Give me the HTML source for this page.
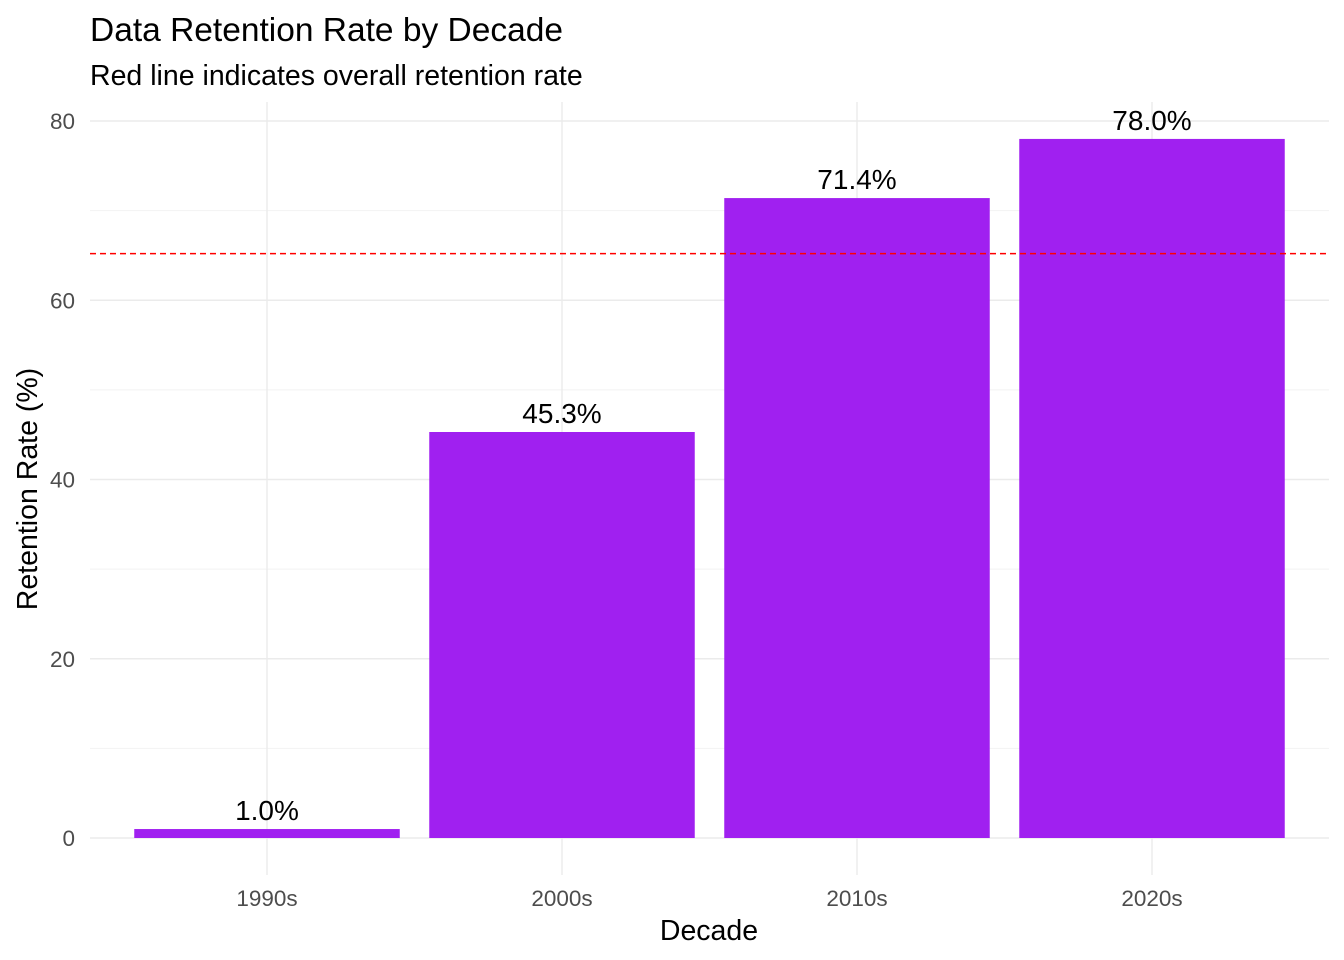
<!DOCTYPE html>
<html><head><meta charset="utf-8"><style>
html,body{margin:0;padding:0;background:#fff;}
svg{display:block;font-family:"Liberation Sans",Arial,sans-serif;}
</style></head><body>
<svg id="chart" width="1344" height="960" viewBox="0 0 1344 960">
<text x="90" y="41" font-size="33.5" fill="#000">Data Retention Rate by Decade</text>
<text x="90" y="85" font-size="28.5" fill="#000">Red line indicates overall retention rate</text>
<g id="grid"></g>
<g id="bars"></g>
<g id="labels"></g>
<g id="yticks"></g>
<g id="xticks"></g>
<text x="709" y="940" font-size="28.5" text-anchor="middle" fill="#000">Decade</text>
<text transform="translate(37,489) rotate(-90)" font-size="28.5" text-anchor="middle" fill="#000">Retention Rate (%)</text>
</svg>
<script>
const categories = ["1990s","2000s","2010s","2020s"];
const values = [1.0, 45.3, 71.4, 78.0];
const overallRate = 65.2;
const yTicks = [0,20,40,60,80];
const yMinor = [10,30,50,70];

const NS="http://www.w3.org/2000/svg";
const left=90,right=1329;
const y0=838, pxPerUnit=(838-121)/80;
const y=v=>y0-v*pxPerUnit;
const step=(right-left)/(categories.length+0.2);
const x=i=>left+(i+0.6)*step;
const bw=step*0.9;
function mk(tag,attrs,parent){const e=document.createElementNS(NS,tag);for(const k in attrs)e.setAttribute(k,attrs[k]);parent.appendChild(e);return e;}
const grid=document.getElementById('grid');
yMinor.forEach(t=>{const l=mk('line',{x1:left,x2:right,y1:y(t),y2:y(t),stroke:'#f2f2f2','stroke-width':1},grid);

});
yTicks.forEach(t=>{const l=mk('line',{x1:left,x2:right,y1:y(t),y2:y(t),stroke:'#ebebeb','stroke-width':1.4},grid);

});
categories.forEach((c,i)=>{const l=mk('line',{x1:x(i),x2:x(i),y1:102,y2:875,stroke:'#ebebeb','stroke-width':1.4},grid);

});
const bars=document.getElementById('bars'),labels=document.getElementById('labels');
values.forEach((v,i)=>{
const r=mk('rect',{x:x(i)-bw/2,y:y(v),width:bw,height:y0-y(v),fill:'#a020f0'},bars);


const t=mk('text',{x:x(i),y:y(v)-9,'font-size':'28','text-anchor':'middle',fill:'#000'},labels);
t.textContent=v.toFixed(1)+'%';


});
const ref=mk('line',{x1:left,x2:right,y1:y(overallRate),y2:y(overallRate),stroke:'#ff0000','stroke-width':1.5,'stroke-dasharray':'6,4'},document.getElementById('chart'));


const yt=document.getElementById('yticks');
yTicks.forEach(t=>{const e=mk('text',{x:75,y:y(t)+8,'font-size':'22.5','text-anchor':'end',fill:'#4d4d4d'},yt);e.textContent=t;

});
const xt=document.getElementById('xticks');
categories.forEach((c,i)=>{const e=mk('text',{x:x(i),y:906,'font-size':'22.5','text-anchor':'middle',fill:'#4d4d4d'},xt);e.textContent=c;

});
</script>
</body></html>
